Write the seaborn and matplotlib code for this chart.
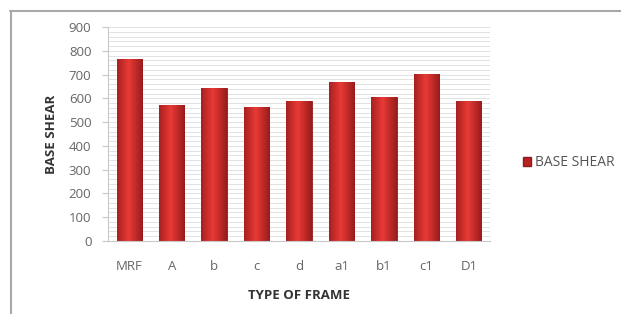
import numpy as np
import pandas as pd
import matplotlib.pyplot as plt
import seaborn as sns
from matplotlib.patches import Rectangle

# data
frames = ['MRF', 'A', 'b', 'c', 'd', 'a1', 'b1', 'c1', 'D1']
base_shear = [765, 572, 643, 563, 589, 669, 606, 702, 589]

df = pd.DataFrame({'frame': frames, 'base_shear': base_shear})

sns.set_style('white')
plt.rcParams['font.family'] = ['Open Sans', 'DejaVu Sans']

fig = plt.figure(figsize=(6.21, 3.14), dpi=100)
ax = fig.add_axes([0.174, 0.2325, 0.615, 0.6815])

sns.barplot(data=df, x='frame', y='base_shear', color='#d42a2a', width=0.6,
            edgecolor='#8e1a1a', linewidth=0.6, saturation=1, ax=ax)

# cylinder-like shading on each bar
grad = np.linspace(0, 1, 64)
shade = 1 - np.abs(grad - 0.45) * 1.6
cmap = plt.matplotlib.colors.LinearSegmentedColormap.from_list(
    'bar', ['#8e1717', '#e83a36'])
for p in ax.patches:
    x0, w, h = p.get_x(), p.get_width(), p.get_height()
    im = ax.imshow(shade[np.newaxis, :], cmap=cmap, aspect='auto',
                   extent=[x0, x0 + w, 0, h], zorder=p.get_zorder() + 0.1,
                   vmin=0, vmax=1)
    im.set_clip_path(p)

ax.set_xlim(-0.5, 8.5)
ax.set_ylim(0, 900)
ax.set_yticks(range(0, 901, 100))
ax.set_yticks(range(0, 901, 20), minor=True)
ax.grid(axis='y', which='both', color='#dddddd', linewidth=0.6)
ax.set_axisbelow(True)

for s in ['top', 'right']:
    ax.spines[s].set_visible(False)
ax.spines['left'].set_color('#c8c8c8')
ax.spines['bottom'].set_color('#c8c8c8')
ax.tick_params(axis='y', which='major', left=True, length=4, color='#c8c8c8',
               labelsize=9.5, labelcolor='#666666', pad=8)
ax.tick_params(axis='y', which='minor', left=False)
ax.tick_params(axis='x', bottom=False, labelsize=9.5, labelcolor='#666666', pad=10)

ax.set_xlabel('TYPE OF FRAME', fontsize=9.5, fontweight='bold', color='#333333', labelpad=12)
ax.set_ylabel('BASE SHEAR', fontsize=9.5, fontweight='bold', color='#333333', labelpad=8)

# legend
handle = Rectangle((0, 0), 1, 1, facecolor='#b52222', edgecolor='#8e1a1a')
fig.legend([handle], ['BASE SHEAR'], loc='center left', bbox_to_anchor=(0.822, 0.482),
           frameon=False, fontsize=10, handlelength=0.6, handleheight=0.6,
           handletextpad=0.3, labelcolor='#555555')

# outer chart frame (top and left edges)
fig.add_artist(plt.Line2D([0.016, 1.0], [0.966, 0.966], color='#a8a8a8', linewidth=1.5,
                          transform=fig.transFigure))
fig.add_artist(plt.Line2D([0.0175, 0.0175], [0.0, 0.966], color='#a8a8a8', linewidth=1.5,
                          transform=fig.transFigure))

fig.savefig('out.png', dpi=100)
